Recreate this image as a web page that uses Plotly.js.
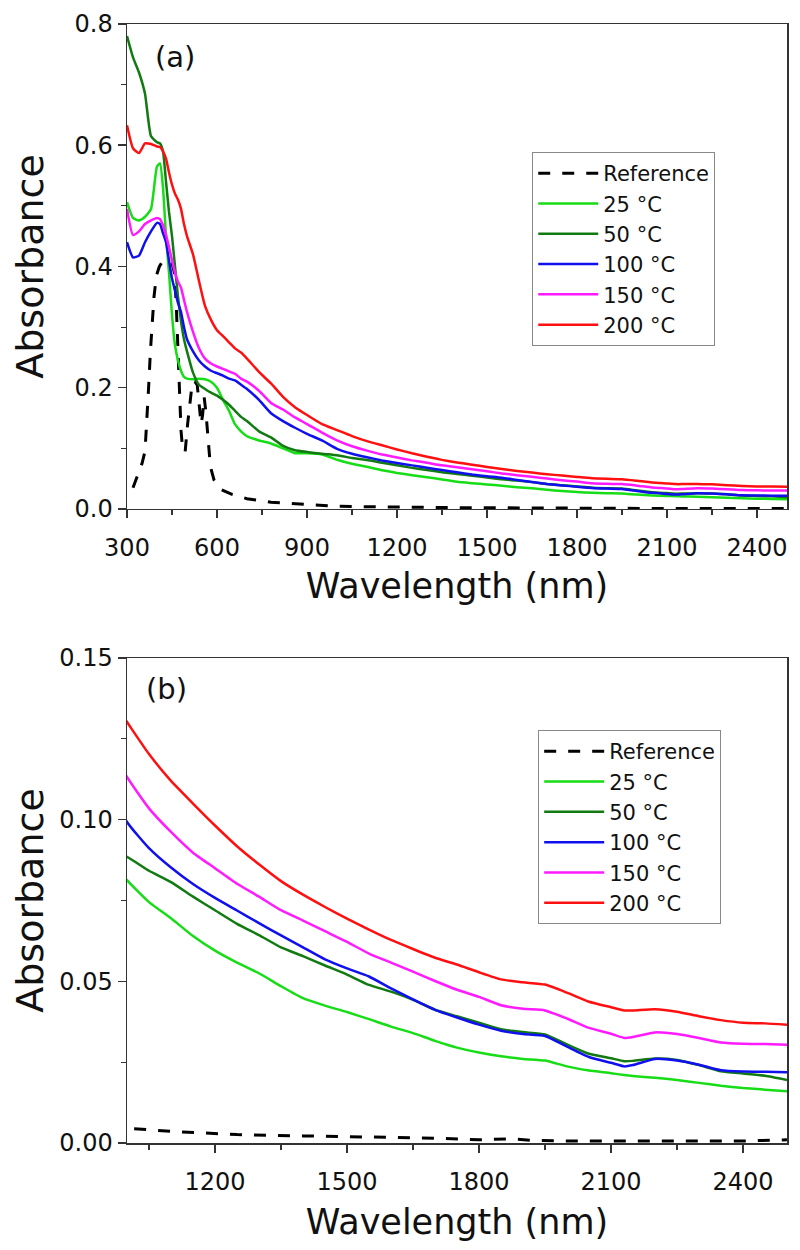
<!DOCTYPE html>
<html>
<head>
<meta charset="utf-8">
<script src="https://cdn.plot.ly/plotly-3.0.1.min.js"></script>
<style>
  body { margin: 0; background: #ffffff; }
  #chart { width: 800px; height: 1250px; }
</style>
</head>
<body>
<div id="chart"></div>
<script>
// wavelength grid shared by the heated samples (nm)
const wl = [300, 320, 340, 360, 380, 400, 410, 420, 430, 440, 450, 460, 470, 480, 490, 500,
  520, 540, 560, 580, 600, 620, 640, 660, 680, 700, 740, 780, 820, 860, 900, 950, 1000,
  1050, 1100, 1150, 1200, 1250, 1300, 1350, 1400, 1450, 1500, 1550, 1600, 1650, 1700,
  1750, 1800, 1850, 1900, 1950, 2000, 2050, 2100, 2130, 2150, 2200, 2250, 2300, 2350,
  2400, 2450, 2500];

const abs25 = [0.506, 0.480, 0.476, 0.482, 0.495, 0.565, 0.570, 0.530, 0.450, 0.390, 0.320, 0.270, 0.245, 0.228, 0.218, 0.215,
  0.214, 0.215, 0.214, 0.210, 0.200, 0.180, 0.162, 0.140, 0.128, 0.120, 0.113, 0.108, 0.100, 0.092, 0.092, 0.090, 0.0813,
  0.0745, 0.0695, 0.0640, 0.0595, 0.0558, 0.0525, 0.0485, 0.0448, 0.0425, 0.0405, 0.0383, 0.0360, 0.0340, 0.0316,
  0.0295, 0.0280, 0.0268, 0.0260, 0.0255, 0.0237, 0.0224, 0.0216, 0.0210, 0.0207, 0.0202, 0.0195, 0.0186, 0.0177,
  0.0170, 0.0165, 0.0160];

const abs50 = [0.780, 0.745, 0.720, 0.685, 0.615, 0.605, 0.603, 0.590, 0.540, 0.490, 0.450, 0.400, 0.350, 0.310, 0.280, 0.260,
  0.225, 0.205, 0.198, 0.192, 0.187, 0.180, 0.172, 0.162, 0.152, 0.145, 0.128, 0.118, 0.104, 0.097, 0.094, 0.091, 0.0885,
  0.0842, 0.0807, 0.0762, 0.0720, 0.0678, 0.0643, 0.0605, 0.0578, 0.0549, 0.0521, 0.0489, 0.0468, 0.0443, 0.0412,
  0.0392, 0.0372, 0.0352, 0.0343, 0.0336, 0.0305, 0.0276, 0.0262, 0.0253, 0.0254, 0.0261, 0.0257, 0.0241, 0.0222,
  0.0215, 0.0208, 0.0195];

const abs100 = [0.440, 0.415, 0.418, 0.440, 0.458, 0.472, 0.470, 0.455, 0.440, 0.410, 0.380, 0.360, 0.340, 0.325, 0.300, 0.280,
  0.260, 0.245, 0.235, 0.228, 0.224, 0.220, 0.215, 0.212, 0.205, 0.198, 0.180, 0.158, 0.145, 0.134, 0.124, 0.113, 0.0993,
  0.0912, 0.0852, 0.0801, 0.0758, 0.0719, 0.0680, 0.0642, 0.0605, 0.0568, 0.0540, 0.0515, 0.0478, 0.0444, 0.0412,
  0.0388, 0.0366, 0.0347, 0.0337, 0.0331, 0.0298, 0.0266, 0.0248, 0.0237, 0.0241, 0.0260, 0.0255, 0.0242, 0.0225,
  0.0221, 0.0220, 0.0219];

const abs150 = [0.495, 0.452, 0.458, 0.470, 0.476, 0.480, 0.478, 0.468, 0.452, 0.432, 0.410, 0.390, 0.375, 0.365, 0.345, 0.325,
  0.292, 0.265, 0.248, 0.240, 0.235, 0.231, 0.227, 0.223, 0.215, 0.210, 0.195, 0.175, 0.164, 0.151, 0.140, 0.126, 0.1132,
  0.1035, 0.0962, 0.0898, 0.0850, 0.0802, 0.0762, 0.0720, 0.0688, 0.0655, 0.0622, 0.0586, 0.0558, 0.0530, 0.0501,
  0.0474, 0.0452, 0.0426, 0.0415, 0.0410, 0.0385, 0.0356, 0.0338, 0.0325, 0.0328, 0.0342, 0.0337, 0.0325, 0.0311,
  0.0307, 0.0306, 0.0304];

const abs200 = [0.633, 0.595, 0.587, 0.603, 0.602, 0.598, 0.597, 0.590, 0.578, 0.555, 0.535, 0.520, 0.510, 0.495, 0.470, 0.450,
  0.420, 0.376, 0.335, 0.312, 0.295, 0.285, 0.275, 0.265, 0.258, 0.248, 0.226, 0.207, 0.185, 0.168, 0.155, 0.140, 0.1302,
  0.1203, 0.1120, 0.1050, 0.0982, 0.0918, 0.0862, 0.0810, 0.0768, 0.0730, 0.0694, 0.0660, 0.0628, 0.0600, 0.0573,
  0.0552, 0.0528, 0.0506, 0.0497, 0.0490, 0.0465, 0.0437, 0.0420, 0.0410, 0.0410, 0.0414, 0.0406, 0.0392, 0.0380,
  0.0372, 0.0370, 0.0366];

// unheated reference film
const refWl = [320, 335, 350, 360, 366, 372, 378, 384, 390, 398, 408, 420, 435, 450, 458, 464, 470, 475, 480, 486,
  494, 502, 510, 518, 526, 534, 541, 547, 552, 557, 563, 570, 578, 590, 610, 650, 700, 780, 900, 1000,
  1100, 1250, 1400, 1550, 1700, 1800, 1850, 1880, 1920, 2000, 2200, 2400, 2500];
const refAbs = [0.035, 0.055, 0.075, 0.095, 0.14, 0.2, 0.26, 0.31, 0.35, 0.385, 0.40, 0.41, 0.41, 0.405, 0.39, 0.34, 0.27, 0.2, 0.13, 0.095,
  0.095, 0.14, 0.18, 0.21, 0.21, 0.205, 0.17, 0.14, 0.155, 0.185, 0.16, 0.11, 0.07, 0.048, 0.033, 0.024, 0.017, 0.011, 0.007, 0.0046,
  0.0036, 0.0026, 0.0022, 0.0019, 0.0015, 0.0010, 0.0012, 0.0013, 0.0008, 0.0006, 0.0006, 0.0006, 0.0010];

const names = ["25 °C", "50 °C", "100 °C", "150 °C", "200 °C"];
const series = [abs25, abs50, abs100, abs150, abs200];
const colors = ["#16dd16", "#117a11", "#1010ee", "#ff1aff", "#ff1010"];

const traces = [];
["", "2"].forEach(function(k) {
  traces.push({
    x: refWl, y: refAbs, name: "Reference",
    type: "scatter", mode: "lines",
    xaxis: "x" + k, yaxis: "y" + k,
    legend: "legend" + k,
    line: { color: "#000000", width: 3, dash: "12px,12px" }
  });
  for (let i = 0; i < series.length; i++) {
    traces.push({
      x: wl, y: series[i], name: names[i],
      type: "scatter", mode: "lines",
      xaxis: "x" + k, yaxis: "y" + k,
      legend: "legend" + k,
      line: { color: colors[i], width: 2.5, shape: "spline", smoothing: 0.5 }
    });
  }
});

const font = { family: "DejaVu Sans, Liberation Sans, Arial, sans-serif", color: "#111111" };
const minorStyle = { ticklen: 5, tickwidth: 1.2, tickcolor: "#333333", ticks: "outside" };
function axis(extra) {
  return Object.assign({
    showline: true, linecolor: "#333333", linewidth: 1.5, mirror: true,
    ticks: "outside", ticklen: 8, tickwidth: 1.5, tickcolor: "#333333",
    showgrid: false, zeroline: false,
    tickfont: { size: 24, color: "#111111" }
  }, extra);
}
const legendStyle = {
  bgcolor: "rgba(255,255,255,0)", bordercolor: "#888888", borderwidth: 1,
  font: { size: 21, color: "#111111" }, itemwidth: 60, tracegroupgap: 0,
  xanchor: "left", yanchor: "top"
};

const layout = {
  width: 800, height: 1250,
  margin: { l: 127, r: 13, t: 24, b: 107 },
  paper_bgcolor: "#ffffff", plot_bgcolor: "#ffffff",
  font: font,
  showlegend: true,
  xaxis: axis({ anchor: "y", range: [300, 2500], tick0: 300, dtick: 300, ticklabelstandoff: 9,
    minor: Object.assign({ dtick: 150 }, minorStyle),
    title: { text: "Wavelength (nm)", font: { size: 35 }, standoff: 12 } }),
  yaxis: axis({ anchor: "x", domain: [0.5666, 1], range: [0, 0.8], dtick: 0.2, tickformat: ".1f",
    minor: Object.assign({ dtick: 0.1 }, minorStyle),
    title: { text: "Absorbance", font: { size: 38 }, standoff: 19 } }),
  xaxis2: axis({ anchor: "y2", range: [1000, 2500], tick0: 1200, dtick: 300, ticklabelstandoff: 9,
    minor: Object.assign({ dtick: 150, tick0: 1050 }, minorStyle),
    title: { text: "Wavelength (nm)", font: { size: 35 }, standoff: 14 } }),
  yaxis2: axis({ anchor: "x2", domain: [0, 0.4334], range: [0, 0.15], dtick: 0.05, tickformat: ".2f",
    minor: Object.assign({ dtick: 0.025 }, minorStyle),
    title: { text: "Absorbance", font: { size: 38 }, standoff: 4 } }),
  legend: Object.assign({ x: 0.614, y: 0.8856 }, legendStyle),
  legend2: Object.assign({ x: 0.623, y: 0.369 }, legendStyle),
  annotations: [
    { text: "(a)", xref: "paper", yref: "paper", x: 0.0727, y: 0.9705,
      xanchor: "center", yanchor: "middle", showarrow: false,
      font: { size: 29, color: "#111111" } },
    { text: "(b)", xref: "paper", yref: "paper", x: 0.0606, y: 0.4057,
      xanchor: "center", yanchor: "middle", showarrow: false,
      font: { size: 29, color: "#111111" } }
  ]
};

Plotly.newPlot("chart", traces, layout, { displayModeBar: false, staticPlot: true });
</script>
</body>
</html>
